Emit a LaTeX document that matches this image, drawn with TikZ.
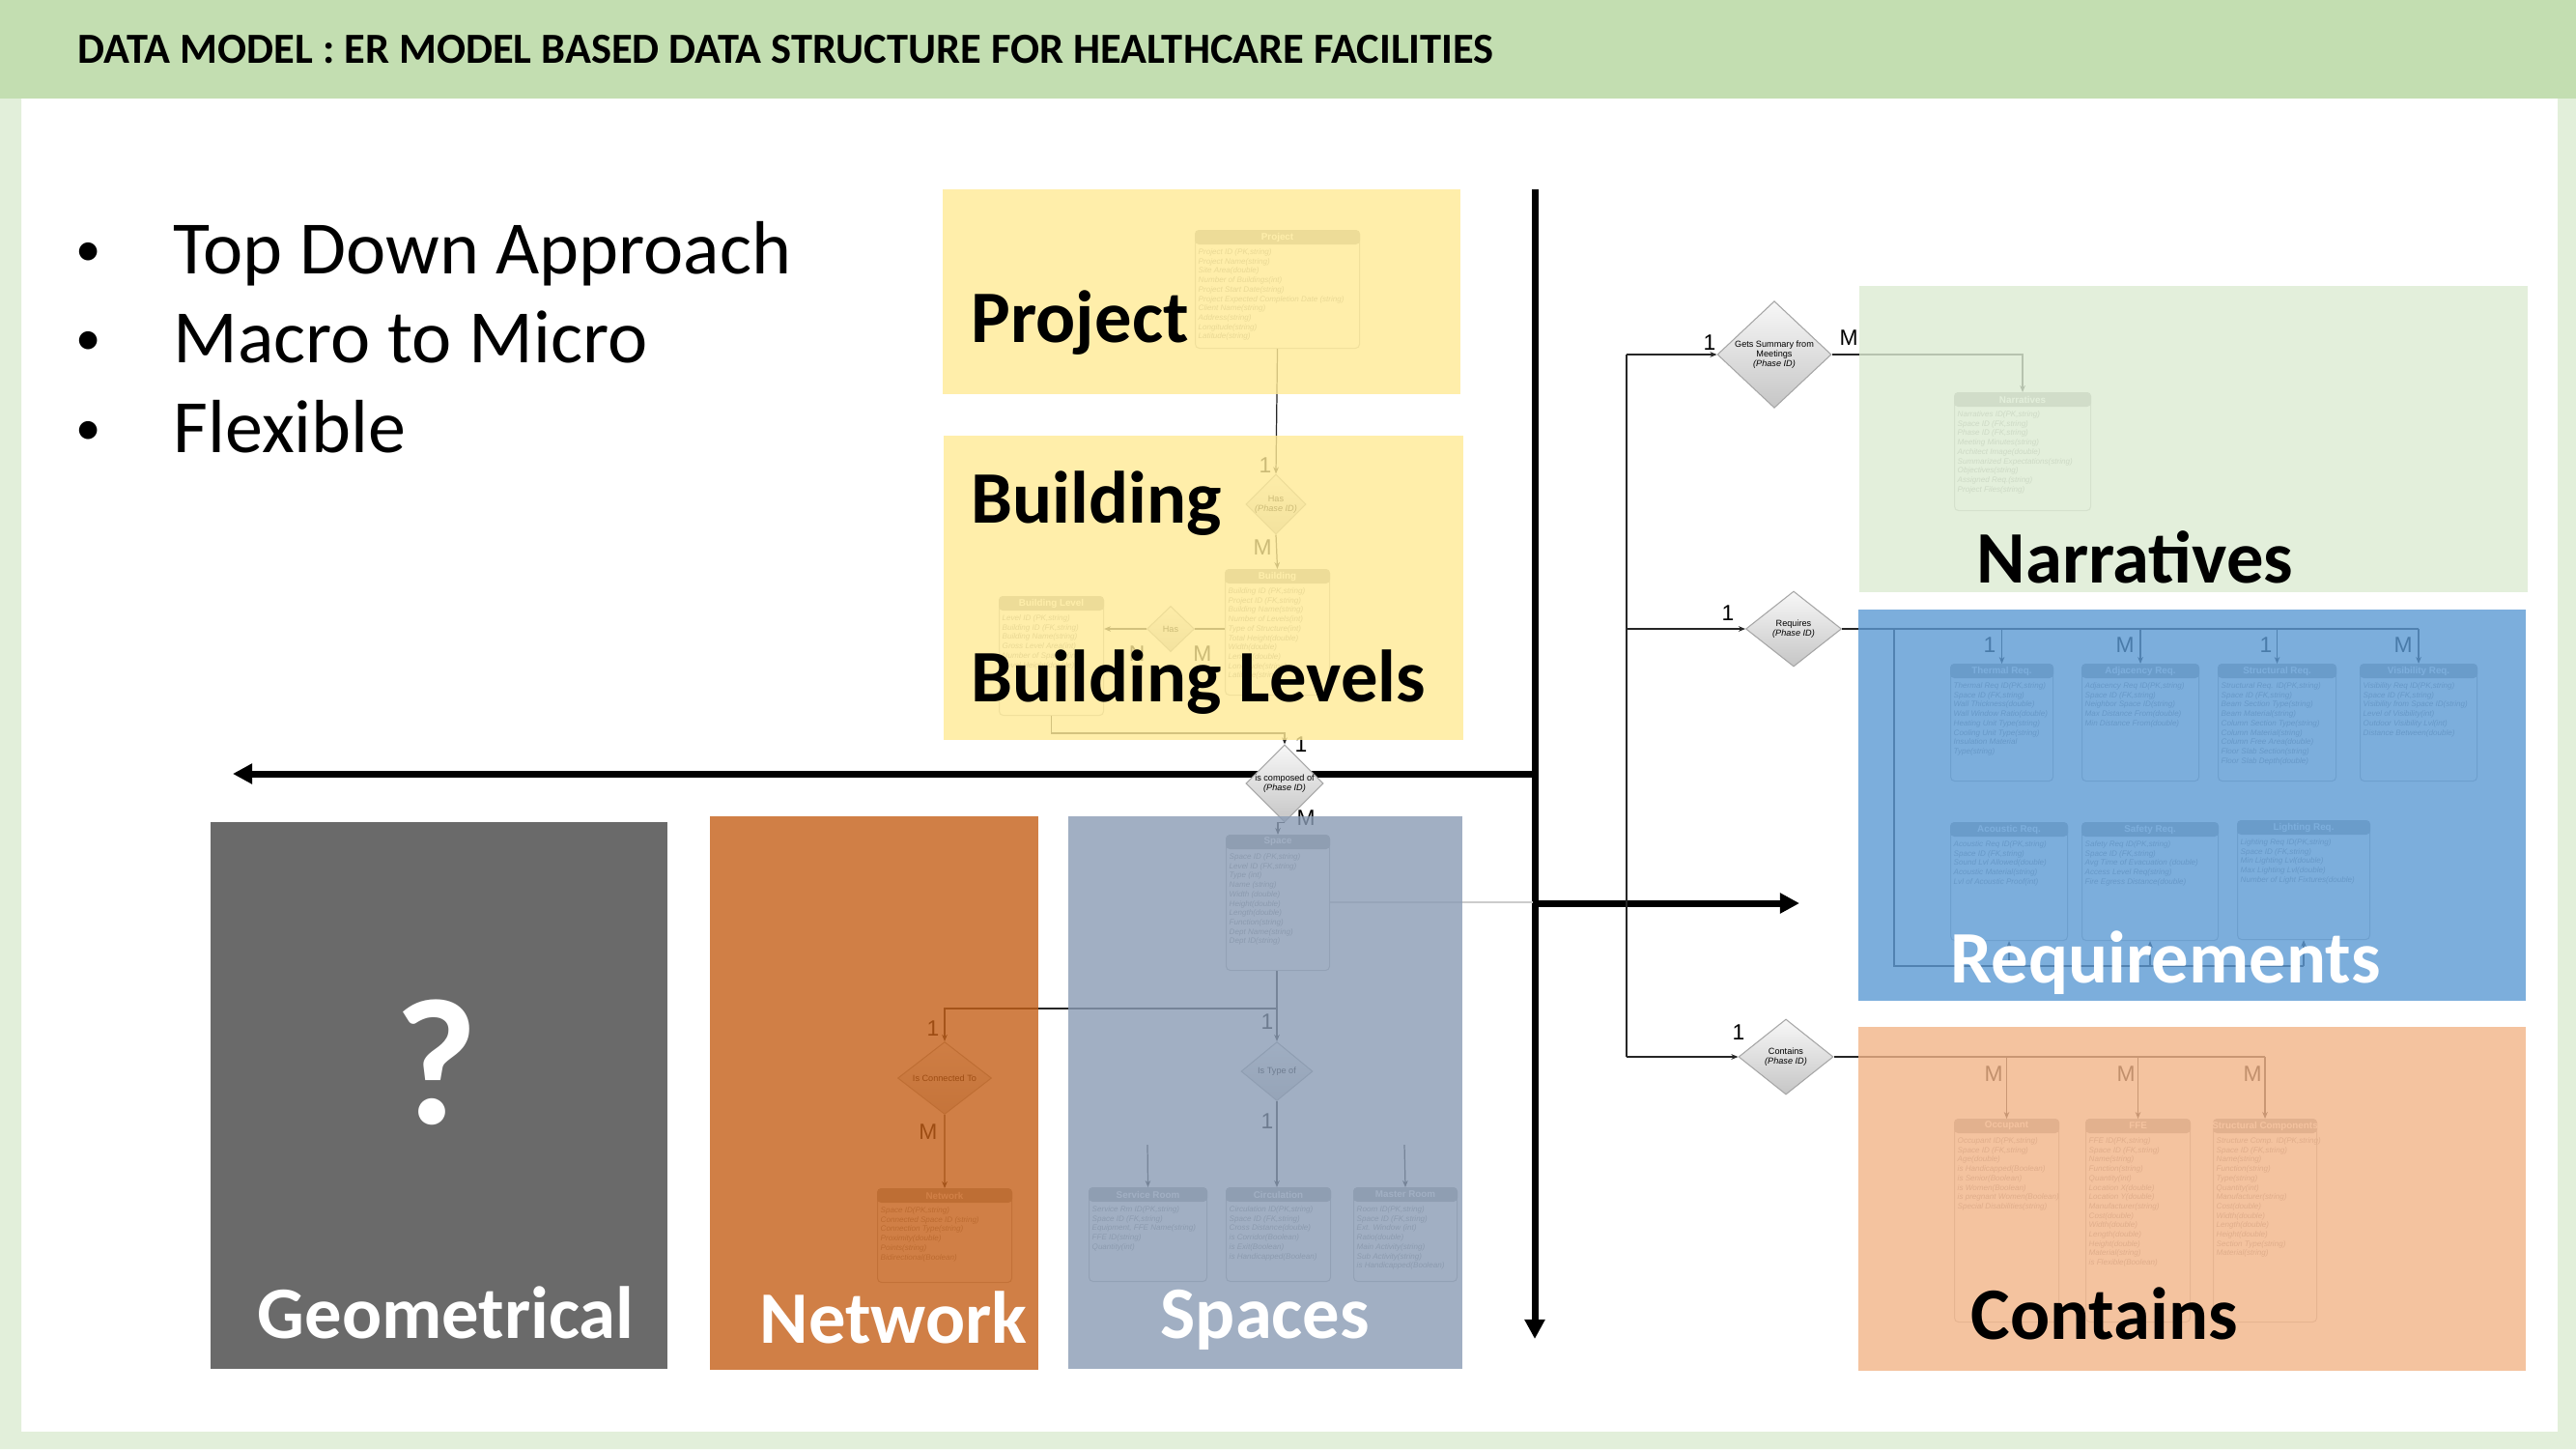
\documentclass[tikz,border=0pt]{standalone}
\usepackage{fontspec}
\setmainfont{Carlito}
\setsansfont{Liberation Sans}
\usepackage{tikz}
\usetikzlibrary{shapes.geometric,arrows.meta}
\definecolor{header green}{RGB}{195,222,177}
\definecolor{pale green}{RGB}{226,239,218}
\definecolor{project yellow}{RGB}{255,234,149}
\definecolor{narrative green}{RGB}{220,235,210}
\definecolor{requirement blue}{RGB}{92,154,212}
\definecolor{contain peach}{RGB}{242,180,136}
\definecolor{network orange}{RGB}{197,96,24}
\definecolor{space grey}{RGB}{138,156,181}
\definecolor{geometry grey}{RGB}{106,106,106}

\tikzset{
  entbox/.style={draw=gray!55, fill=white, rounded corners=1.2pt, line width=0.3pt, inner sep=0, anchor=north west},
  enthead/.style={fill=gray!70, rounded corners=1.2pt},
  enttitle/.style={font=\sffamily\bfseries\fontsize{2.8}{3}\selectfont, text=white, inner sep=0},
  entrows/.style={font=\sffamily\itshape\fontsize{2.3}{2.76}\selectfont, text=gray!85, align=left, inner sep=0, anchor=north west},
  reln/.style={diamond, draw=gray!70, line width=0.3pt, top color=gray!6, bottom color=gray!45, inner sep=0, font=\sffamily\fontsize{2.6}{2.9}\selectfont, align=center},
  card/.style={font=\sffamily\fontsize{6.5}{7}\selectfont, inner sep=0},
  erline/.style={line width=0.35pt, draw=black!85},
  erarrow/.style={erline, -{Stealth[length=2pt,width=1.6pt]}},
  bigarrow/.style={line width=2pt, -{Triangle[length=5.7pt,width=5.7pt]}},
  veil/.style={fill opacity=0.8},
  biglabel/.style={font=\bfseries\fontsize{21.8}{24}\selectfont, anchor=base west, inner sep=0},
  bullettext/.style={font=\fontsize{22.2}{26}\selectfont, anchor=base west, inner sep=0}
}

% entity table: name, x, y (top left), width, height, title, rows
\newcommand{\erentity}[7]{%
  \node[entbox, minimum width=#4cm, minimum height=#5cm] (#1) at (#2,#3) {};
  \fill[enthead] (#1.north west) rectangle ([yshift=-0.15cm]#1.north east);
  \node[enttitle] (#1-t) at ([yshift=-0.075cm]#1.north) {#6};
  \node[entrows] (#1-r) at ([xshift=0.03cm,yshift=-0.19cm]#1.north west) {#7};
}

\begin{document}
\begin{tikzpicture}[x=1cm, y=-1cm]
  \useasboundingbox (0,0) rectangle (26.67,15);
  % frame
  \fill[white] (0,0) rectangle (26.67,15);
  \fill[header green] (0,0) rectangle (26.67,1.02);
  \fill[pale green] (0,1.02) rectangle (0.22,15)
                    (26.48,1.02) rectangle (26.67,15)
                    (0,14.82) rectangle (26.67,15);
  \node[font=\bfseries\fontsize{12.65}{14}\selectfont, anchor=base west, inner sep=0] (ttl) at (0.80,0.65)
    {DATA MODEL : ER MODEL BASED DATA STRUCTURE FOR HEALTHCARE FACILITIES};

  % bullets
  \foreach \n/\y/\txt in {b1/2.83/Top Down Approach, b2/3.75/Macro to Micro, b3/4.68/Flexible}{
    \node[font=\fontsize{15}{18}\selectfont, anchor=base, inner sep=0] (\n-dot) at (0.92,\y-0.08) {•};
    \node[bullettext] (\n) at (1.79,\y) {\txt};
  }

  % main arrows
  \coordinate (vtop) at (15.89,1.96);
  \coordinate (vbot) at (15.89,13.86);
  \coordinate (jl) at (15.89,8.01);
  \coordinate (lend) at (2.41,8.01);
  \coordinate (jr) at (15.89,9.35);
  \coordinate (rend) at (18.63,9.35);
  \draw[bigarrow] (vtop) -- (vbot);
  \draw[bigarrow] (jl) -- (lend);
  \draw[bigarrow] (jr) -- (rend);

  % entities
  \erentity{prj}{12.37}{2.38}{1.70}{1.22}{Project}{Project ID (PK,string)\\Project Name(string)\\Site Area(double)\\Number of Buildings(int)\\Project Start Date(string)\\Project Expected Completion Date (string)\\Client Name(string)\\Address(string)\\Longitude(string)\\Latitude(string)}
  \erentity{bld}{12.68}{5.89}{1.08}{1.30}{Building}{Building ID (PK,string)\\Project ID (FK,string)\\Building Name(string)\\Number of Levels(int)\\Type of Structure(int)\\Total Height(double)\\Width(double)\\Length(double)\\Longitude(string)\\Latitude(string)}
  \erentity{blv}{10.34}{6.17}{1.08}{1.23}{Building Level}{Level ID (PK,string)\\Building ID (FK,string)\\Building Name(string)\\Gross Level Area(int)\\Number of Spaces(int)\\Level Height(double)}
  \erentity{spc}{12.69}{8.64}{1.07}{1.40}{Space}{Space ID (PK,string)\\Level ID (FK,string)\\Type (int)\\Name (string)\\Width (double)\\Height(double)\\Length(double)\\Function(string)\\Dept Name(string)\\Dept ID(string)}
  \erentity{srv}{11.27}{12.29}{1.22}{0.97}{Service Room}{Service Rm ID(PK,string)\\Space ID (FK,string)\\Equipment, FFE Name(string)\\FFE ID(string)\\Quantity(int)}
  \erentity{circ}{12.69}{12.29}{1.08}{0.97}{Circulation}{Circulation ID(PK,string)\\Space ID (FK,string)\\Cross Distance(double)\\is Corridor(Boolean)\\is Exit(Boolean)\\is Handicapped(Boolean)}
  \erentity{mst}{14.01}{12.29}{1.07}{0.97}{Master Room}{Room ID(PK,string)\\Space ID (FK,string)\\Ext. Window (int)\\Ratio(double)\\Main Activity(string)\\Sub Activity(string)\\is Handicapped(Boolean)}
  \erentity{net}{9.08}{12.30}{1.39}{0.97}{Network}{Space ID(PK,string)\\Connected Space ID (string)\\Connection Type(string)\\Proximity(double)\\Points(string)\\Bidirectional(Boolean)}
  \erentity{narr}{20.23}{4.06}{1.41}{1.22}{Narratives}{Narratives ID(PK,string)\\Space ID (FK,string)\\Phase ID (FK,string)\\Meeting Minutes(string)\\Architect Image(double)\\Summarized Expectations(string)\\Objectives(string)\\Assigned Req.(string)\\Project Files(string)}
  \erentity{thr}{20.19}{6.87}{1.06}{1.21}{Thermal Req.}{Thermal Req ID(PK,string)\\Space ID (FK,string)\\Wall Thickness(double)\\Wall Window Ratio(double)\\Heating Unit Type(string)\\Cooling Unit Type(string)\\Insulation Material\\Type(string)}
  \erentity{adj}{21.55}{6.87}{1.21}{1.21}{Adjacency Req.}{Adjacency Req ID(PK,string)\\Space ID (FK,string)\\Neighbor Space ID(string)\\Max Distance From(double)\\Min Distance From(double)}
  \erentity{str}{22.96}{6.87}{1.22}{1.21}{Structural Req.}{Structural Req. ID(PK,string)\\Space ID (FK,string)\\Beam Section Type(string)\\Beam Material(string)\\Column Section Type(string)\\Column Material(string)\\Column Free Area(double)\\Floor Slab Section(string)\\Floor Slab Depth(double)}
  \erentity{vis}{24.43}{6.87}{1.21}{1.21}{Visibility Req.}{Visibility Req ID(PK,string)\\Space ID (FK,string)\\Visibility from Space ID(string)\\Level of Visibility(int)\\Outdoor Visibility Lvl(int)\\Distance Between(double)}
  \erentity{aco}{20.19}{8.51}{1.21}{1.22}{Acoustic Req.}{Acoustic Req ID(PK,string)\\Space ID (FK,string)\\Sound Lvl Allowed(double)\\Acoustic Material(string)\\Lvl of Acoustic Proof(int)}
  \erentity{saf}{21.55}{8.51}{1.41}{1.22}{Safety Req.}{Safety Req ID(PK,string)\\Space ID (FK,string)\\Avg Time of Evacuation (double)\\Access Level Req(string)\\Fire Egress Distance(double)}
  \erentity{lit}{23.16}{8.49}{1.37}{1.23}{Lighting Req.}{Lighting Req ID(PK,string)\\Space ID (FK,string)\\Min Lighting Lvl(double)\\Max Lighting Lvl(double)\\Number of Light Fixtures(double)}
  \erentity{occ}{20.23}{11.58}{1.08}{2.10}{Occupant}{Occupant ID(PK,string)\\Space ID (FK,string)\\Age(double)\\is Handicapped(Boolean)\\is Senior(Boolean)\\is Women(Boolean)\\is pregnant Women(Boolean)\\Special Disabilities(string)}
  \erentity{ffe}{21.59}{11.58}{1.08}{2.10}{FFE}{FFE ID(PK,string)\\Space ID (FK,string)\\Name(string)\\Function(string)\\Quantity(int)\\Location X(double)\\Location Y(double)\\Manufacturer(string)\\Cost(double)\\Width(double)\\Length(double)\\Height(double)\\Material(string)\\is Flexible(Boolean)}
  \erentity{scm}{22.91}{11.58}{1.07}{2.10}{Structural Components}{Structure Comp. ID(PK,string)\\Space ID (FK,string)\\Name(string)\\Function(string)\\Type(string)\\Quantity(int)\\Manufacturer(string)\\Cost(double)\\Width(double)\\Length(double)\\Height(double)\\Section Type(string)\\Material(string)}

  % relations
  \node[reln, minimum width=0.55cm, minimum height=0.55cm] (has1) at (13.21,5.22) {Has\\\textit{(Phase ID)}};
  \node[reln, minimum width=0.49cm, minimum height=0.47cm] (has2) at (12.12,6.51) {Has};
  \node[reln, minimum width=0.74cm, minimum height=0.61cm] (comp) at (13.30,8.11) {is composed of\\\textit{(Phase ID)}};
  \node[reln, minimum width=0.74cm, minimum height=0.61cm] (istype) at (13.22,11.09) {Is Type of};
  \node[reln, minimum width=0.97cm, minimum height=0.75cm] (isconn) at (9.78,11.16) {Is Connected To};
  \node[reln, minimum width=1.18cm, minimum height=0.93cm] (gets) at (18.37,3.67) {Gets Summary from\\Meetings\\\textit{(Phase ID)}};
  \node[reln, minimum width=0.99cm, minimum height=0.78cm] (req) at (18.57,6.51) {Requires\\\textit{(Phase ID)}};
  \node[reln, minimum width=0.98cm, minimum height=0.78cm] (cont) at (18.49,10.94) {Contains\\\textit{(Phase ID)}};

  % connectors
  \draw[erarrow] (prj.south) -- (has1.north);
  \draw[erarrow] (has1.south) -- (bld.north);
  \draw[erline] (bld.west |- has2.east) -- (has2.east);
  \draw[erarrow] (has2.west) -- (blv.east |- has2.west);
  \draw[erarrow] (blv.south) -- ++(0,0.18) -| (comp.north);
  \draw[erarrow] (comp.south) -- (spc.south |- comp.south) -- (spc.north);
  \draw[erarrow] (istype.north |- spc.south) -- (istype.north);
  \draw[erarrow] (istype.south) -- (istype.south |- circ.north);
  \coordinate (tapN) at (13.22,10.44);
  \draw[erarrow] (tapN) -| (isconn.north);
  \draw[erarrow] (isconn.south) -- (net.north);
  \coordinate (srvstub) at (11.88,11.85);
  \coordinate (mststub) at (14.54,11.85);
  \draw[erarrow] (srvstub) -- (srv.north);
  \draw[erarrow] (mststub) -- (mst.north);
  \coordinate (spcout) at (15.87,9.34);
  \draw[erline, draw=gray!40] (spcout -| spc.east) -- (spcout);
  % right hand bus
  \coordinate (bustop) at (16.84,3.67);
  \coordinate (busbot) at (16.84,10.94);
  \draw[erline] (bustop) -- (busbot);
  \draw[erarrow] (bustop) -- (gets.west);
  \draw[erarrow] (bustop |- req.west) -- (req.west);
  \draw[erarrow] (busbot) -- (cont.west);
  \draw[erarrow] (gets.east) -| (narr.north);
  \draw[erline] (req.east) -- (req.east -| vis.north);
  \foreach \tb in {thr,adj,str,vis}
    \draw[erarrow] (req.east -| \tb.north) -- (\tb.north);
  \coordinate (reqdrop) at (19.61,6.51);
  \coordinate (reqlow) at (19.61,10.00);
  \draw[erline] (reqdrop) -- (reqlow) -- (reqlow -| lit.south);
  \foreach \tb in {aco,saf,lit}
    \draw[erarrow] (reqlow -| \tb.south) -- (\tb.south);
  \draw[erline] (cont.east) -- (cont.east -| scm.north);
  \foreach \tb in {occ,ffe,scm}
    \draw[erarrow] (cont.east -| \tb.north) -- (\tb.north);

  % cardinalities
  \foreach \n/\x/\y/\c in {c1/13.10/4.82/1, c2/13.07/5.67/M, c3/11.77/6.77/N, c4/12.45/6.77/M,
      c5/13.47/7.71/1, c6/13.52/8.47/M, c7/13.12/10.58/1, c8/13.12/11.61/1,
      c9/9.66/10.65/1, c10/9.61/11.72/M, c11/17.70/3.55/1, c12/19.14/3.50/M,
      c13/17.89/6.35/1, c14/18.00/10.69/1,
      c15/20.60/6.68/1, c16/22.00/6.68/M, c17/23.46/6.68/1, c18/24.88/6.68/M,
      c19/20.64/11.12/M, c20/22.01/11.12/M, c21/23.32/11.12/M}
    \node[card] (\n) at (\x,\y) {\c};

  % coloured groups laid over the model
  \fill[project yellow, veil] (9.76,1.96) rectangle (15.12,4.08);
  \fill[project yellow, veil] (9.77,4.51) rectangle (15.15,7.66);
  \fill[narrative green, veil] (19.25,2.96) rectangle (26.17,6.13);
  \fill[requirement blue, veil] (19.24,6.31) rectangle (26.15,10.36);
  \fill[contain peach, veil] (19.24,10.63) rectangle (26.15,14.19);
  \fill[geometry grey] (2.18,8.51) rectangle (6.91,14.17);
  \fill[network orange, veil] (7.35,8.45) rectangle (10.75,14.18);
  \fill[space grey, veil] (11.06,8.45) rectangle (15.14,14.17);

  % group names
  \node[biglabel] (lprj) at (10.05,3.54) {Project};
  \node[biglabel] (lbld) at (10.05,5.41) {Building};
  \node[biglabel] (lblv) at (10.05,7.26) {Building Levels};
  \node[biglabel] (lnarr) at (20.46,6.03) {Narratives};
  \node[biglabel, text=white] (lreq) at (20.19,10.17) {Requirements};
  \node[biglabel] (lcont) at (20.40,13.86) {Contains};
  \node[biglabel, text=white] (lgeo) at (2.66,13.85) {Geometrical};
  \node[biglabel, text=white] (lnet) at (7.86,13.90) {Network};
  \node[biglabel, text=white] (lspc) at (12.01,13.85) {Spaces};
  \node[font=\bfseries\fontsize{53}{60}\selectfont, text=white, anchor=base, inner sep=0] (qmark) at (4.52,11.63) {?};
\end{tikzpicture}
\end{document}
